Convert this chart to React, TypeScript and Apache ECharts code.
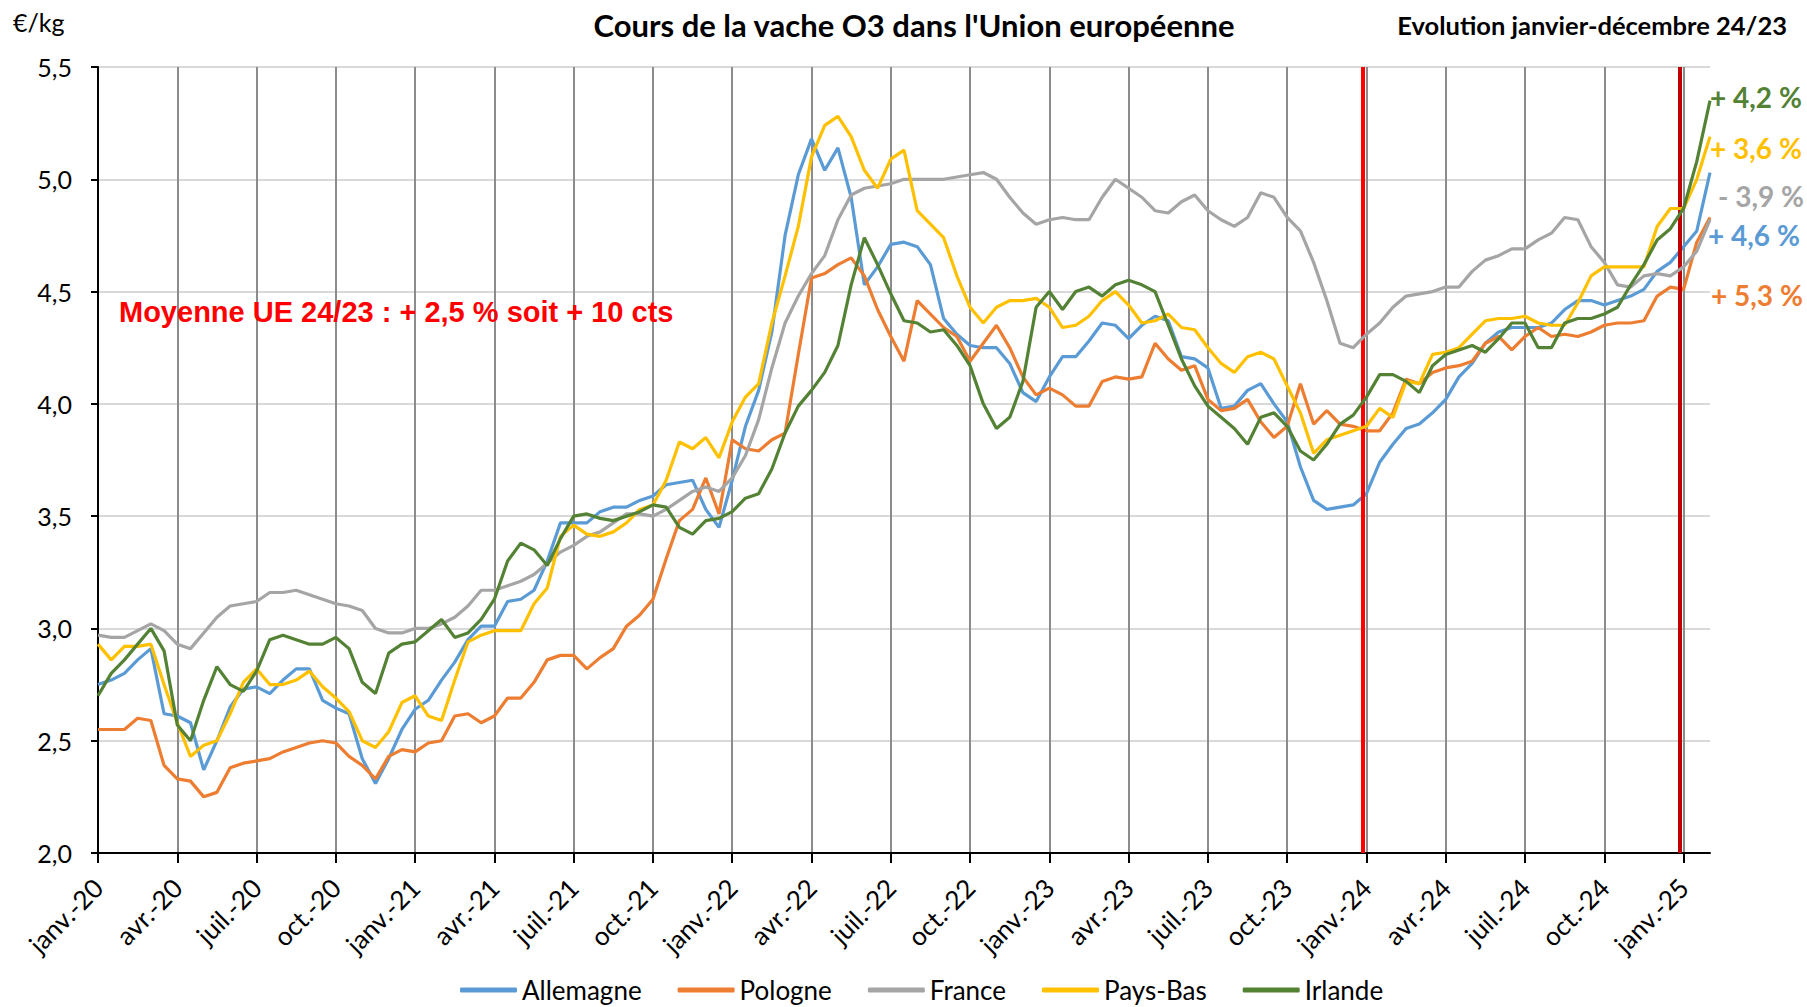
import React, { useEffect, useRef } from "react";
import * as echarts from "echarts";

// Quarterly tick labels (every 6 half-month steps)
const tickLabels = [
  "janv.-20", "avr.-20", "juil.-20", "oct.-20",
  "janv.-21", "avr.-21", "juil.-21", "oct.-21",
  "janv.-22", "avr.-22", "juil.-22", "oct.-22",
  "janv.-23", "avr.-23", "juil.-23", "oct.-23",
  "janv.-24", "avr.-24", "juil.-24", "oct.-24",
  "janv.-25",
];

// Half-month sampling from Jan 2020 to early Feb 2025 (123 points)
const monthNames = ["01", "02", "03", "04", "05", "06", "07", "08", "09", "10", "11", "12"];
const categories: string[] = [];
for (let i = 0; i < 123; i++) {
  const m = Math.floor(i / 2);
  const y = 2020 + Math.floor(m / 12);
  categories.push(`${y}-${monthNames[m % 12]}-${i % 2 === 0 ? "01" : "15"}`);
}

const allemagne = [
  2.75, 2.77, 2.80, 2.86, 2.91, 2.62, 2.61, 2.58, 2.37, 2.50, 2.65, 2.73, 2.74, 2.71, 2.77, 2.82, 2.82, 2.68, 2.645, 2.62, 2.42, 2.31, 2.42, 2.55,
  2.64, 2.68, 2.77, 2.85, 2.95, 3.01, 3.01, 3.12, 3.13, 3.17, 3.30, 3.47, 3.47, 3.47, 3.52, 3.54, 3.54, 3.57, 3.59, 3.64, 3.65, 3.66, 3.53, 3.45,
  3.66, 3.90, 4.06, 4.32, 4.75, 5.02, 5.18, 5.04, 5.14, 4.92, 4.53, 4.61, 4.71, 4.72, 4.70, 4.62, 4.38, 4.31, 4.26, 4.25, 4.25, 4.18, 4.05, 4.01,
  4.12, 4.21, 4.21, 4.28, 4.36, 4.35, 4.29, 4.35, 4.39, 4.37, 4.21, 4.20, 4.16, 3.98, 3.99, 4.06, 4.09, 4.00, 3.92, 3.72, 3.57, 3.53, 3.54, 3.55,
  3.60, 3.74, 3.82, 3.89, 3.91, 3.96, 4.02, 4.12, 4.18, 4.27, 4.32, 4.34, 4.34, 4.34, 4.36, 4.42, 4.46, 4.46, 4.44, 4.46, 4.48, 4.51, 4.59, 4.63,
  4.70, 4.77, 5.03,
];

const pologne = [
  2.55, 2.55, 2.55, 2.60, 2.59, 2.39, 2.33, 2.32, 2.25, 2.27, 2.38, 2.40, 2.41, 2.42, 2.45, 2.47, 2.49, 2.50, 2.49, 2.43, 2.39, 2.33, 2.43, 2.46,
  2.45, 2.49, 2.50, 2.61, 2.62, 2.58, 2.61, 2.69, 2.69, 2.76, 2.86, 2.88, 2.88, 2.82, 2.87, 2.91, 3.01, 3.06, 3.13, 3.31, 3.48, 3.53, 3.67, 3.51,
  3.84, 3.80, 3.79, 3.84, 3.87, 4.22, 4.56, 4.58, 4.62, 4.65, 4.57, 4.42, 4.30, 4.19, 4.46, 4.40, 4.34, 4.30, 4.19, 4.27, 4.35, 4.25, 4.12, 4.04,
  4.07, 4.04, 3.99, 3.99, 4.10, 4.12, 4.11, 4.12, 4.27, 4.20, 4.15, 4.17, 4.02, 3.97, 3.98, 4.02, 3.92, 3.85, 3.90, 4.09, 3.91, 3.97, 3.91, 3.90,
  3.88, 3.88, 3.96, 4.11, 4.09, 4.14, 4.16, 4.17, 4.19, 4.27, 4.30, 4.24, 4.30, 4.34, 4.30, 4.31, 4.30, 4.32, 4.35, 4.36, 4.36, 4.37, 4.48, 4.52,
  4.51, 4.72, 4.83,
];

const france = [
  2.97, 2.96, 2.96, 2.99, 3.02, 2.99, 2.93, 2.91, 2.98, 3.05, 3.10, 3.11, 3.12, 3.16, 3.16, 3.17, 3.15, 3.13, 3.11, 3.10, 3.08, 3.00, 2.98, 2.98,
  3.00, 3.00, 3.02, 3.05, 3.10, 3.17, 3.17, 3.19, 3.21, 3.24, 3.29, 3.34, 3.37, 3.41, 3.43, 3.47, 3.51, 3.51, 3.50, 3.53, 3.57, 3.61, 3.63, 3.61,
  3.67, 3.77, 3.93, 4.16, 4.36, 4.48, 4.58, 4.66, 4.82, 4.93, 4.96, 4.97, 4.98, 5.00, 5.00, 5.00, 5.00, 5.01, 5.02, 5.03, 5.00, 4.92, 4.85, 4.80,
  4.82, 4.83, 4.82, 4.82, 4.92, 5.00, 4.96, 4.92, 4.86, 4.85, 4.90, 4.93, 4.86, 4.82, 4.79, 4.83, 4.94, 4.92, 4.83, 4.77, 4.63, 4.46, 4.27, 4.25,
  4.31, 4.36, 4.43, 4.48, 4.49, 4.50, 4.52, 4.52, 4.59, 4.64, 4.66, 4.69, 4.69, 4.73, 4.76, 4.83, 4.82, 4.70, 4.63, 4.53, 4.52, 4.57, 4.58, 4.57,
  4.61, 4.68, 4.82,
];

const paysBas = [
  2.93, 2.86, 2.92, 2.92, 2.93, 2.75, 2.58, 2.43, 2.48, 2.50, 2.62, 2.76, 2.82, 2.75, 2.75, 2.77, 2.81, 2.74, 2.69, 2.63, 2.50, 2.47, 2.54, 2.67,
  2.70, 2.61, 2.59, 2.77, 2.94, 2.97, 2.99, 2.99, 2.99, 3.11, 3.18, 3.41, 3.46, 3.42, 3.41, 3.43, 3.47, 3.53, 3.55, 3.66, 3.83, 3.80, 3.85, 3.76,
  3.92, 4.03, 4.09, 4.36, 4.57, 4.79, 5.10, 5.24, 5.28, 5.19, 5.04, 4.96, 5.09, 5.13, 4.86, 4.80, 4.74, 4.57, 4.43, 4.36, 4.43, 4.46, 4.46, 4.47,
  4.43, 4.34, 4.35, 4.39, 4.46, 4.50, 4.44, 4.36, 4.37, 4.40, 4.34, 4.33, 4.25, 4.18, 4.14, 4.21, 4.23, 4.20, 4.08, 3.96, 3.78, 3.84, 3.86, 3.88,
  3.90, 3.98, 3.94, 4.10, 4.09, 4.22, 4.23, 4.25, 4.31, 4.37, 4.38, 4.38, 4.39, 4.36, 4.35, 4.35, 4.45, 4.57, 4.61, 4.61, 4.61, 4.61, 4.79, 4.87,
  4.87, 5.00, 5.19,
];

const irlande = [
  2.70, 2.80, 2.86, 2.93, 3.00, 2.90, 2.57, 2.50, 2.68, 2.83, 2.75, 2.72, 2.81, 2.95, 2.97, 2.95, 2.93, 2.93, 2.96, 2.91, 2.76, 2.71, 2.89, 2.93,
  2.94, 2.99, 3.04, 2.96, 2.98, 3.04, 3.13, 3.30, 3.38, 3.35, 3.28, 3.40, 3.50, 3.51, 3.49, 3.48, 3.50, 3.52, 3.55, 3.54, 3.45, 3.42, 3.48, 3.49,
  3.52, 3.58, 3.60, 3.71, 3.87, 3.99, 4.06, 4.14, 4.26, 4.53, 4.74, 4.62, 4.49, 4.37, 4.36, 4.32, 4.33, 4.26, 4.17, 4.00, 3.89, 3.94, 4.10, 4.43,
  4.50, 4.42, 4.50, 4.52, 4.48, 4.53, 4.55, 4.53, 4.50, 4.35, 4.20, 4.08, 3.99, 3.94, 3.89, 3.82, 3.94, 3.96, 3.90, 3.79, 3.75, 3.82, 3.91, 3.95,
  4.03, 4.13, 4.13, 4.10, 4.05, 4.17, 4.22, 4.24, 4.26, 4.23, 4.29, 4.36, 4.36, 4.25, 4.25, 4.36, 4.38, 4.38, 4.40, 4.43, 4.53, 4.62, 4.73, 4.78,
  4.87, 5.08, 5.35,
];

const seriesNames = ["Allemagne", "Pologne", "France", "Pays-Bas", "Irlande"];
const seriesColors = ["#5B9BD5", "#ED7D31", "#A5A5A5", "#FFC000", "#548235"];
const seriesData = [allemagne, pologne, france, paysBas, irlande];

// Evolution labels (right side), in order from top
const evoLabels = ["+ 4,2 %", "+ 3,6 %", "- 3,9 %", "+ 4,6 %", "+ 5,3 %"];
const evoColors = ["#548235", "#FFC000", "#A5A5A5", "#5B9BD5", "#ED7D31"];
const evoY = [97, 148, 196, 235, 295];
const evoX = [1710, 1710, 1718, 1708, 1711];

// Red vertical markers (months since Jan 2020)
const redLineMonths = [47.86, 59.87];
const redLineColors = ["#FF0000", "#C00000"];

export default function App() {
  const ref = useRef<HTMLDivElement>(null);
  useEffect(() => {
    document.body.style.margin = "0";
    document.body.style.overflow = "hidden";
    const chart = echarts.init(ref.current!, undefined, { renderer: "svg" });
    const font = "Lato, 'Noto Sans', sans-serif";
    chart.setOption({
      animation: false,
      backgroundColor: "#ffffff",
      textStyle: { fontFamily: font },
      grid: { left: 98, right: 97, top: 67, bottom: 154 },
      legend: {
        data: seriesNames,
        left: 455,
        top: 972,
        icon: "roundRect",
        itemWidth: 57,
        itemHeight: 5,
        itemGap: 36,
        textStyle: { fontSize: 26, color: "#000", fontFamily: font },
      },
      xAxis: [
        {
          type: "category",
          data: categories,
          boundaryGap: false,
          axisLine: { show: true, lineStyle: { color: "#000", width: 2 } },
          axisTick: { show: true, interval: 5, length: 10, lineStyle: { color: "#000", width: 2 } },
          axisLabel: {
            interval: 5,
            rotate: 45,
            margin: 30,
            fontSize: 26,
            color: "#000",
            fontFamily: font,
            formatter: (_v: string, i: number) => tickLabels[Math.round(i / 6)] ?? "",
          },
          splitLine: { show: true, interval: 5, lineStyle: { color: "#8C8C8C", width: 2 } },
        },
        { type: "value", min: 0, max: 61, show: false },
      ],
      yAxis: {
        type: "value",
        min: 2,
        max: 5.5,
        interval: 0.5,
        axisLine: { show: true, lineStyle: { color: "#000", width: 2 } },
        axisTick: { show: true, length: 7, lineStyle: { color: "#000", width: 2 } },
        axisLabel: {
          fontSize: 25,
          color: "#000",
          margin: 26,
          fontFamily: font,
          formatter: (v: number) => v.toFixed(1).replace(".", ","),
        },
        splitLine: { show: true, lineStyle: { color: "#D9D9D9", width: 2 } },
      },
      series: [
        ...seriesNames.map((name, k) => ({
          name,
          type: "line",
          data: seriesData[k],
          showSymbol: false,
          symbol: "none",
          color: seriesColors[k],
          lineStyle: { color: seriesColors[k], width: 3.2 },
          z: 3 + k,
        })),
        {
          name: "marqueurs",
          type: "line",
          xAxisIndex: 1,
          data: [],
          z: 10,
          markLine: {
            silent: true,
            symbol: ["none", "none"],
            label: { show: false },
            data: redLineMonths.map((m, i) => ({
              xAxis: m,
              lineStyle: { color: redLineColors[i], width: 4, type: "solid" },
            })),
          },
        },
      ],
      graphic: [
        {
          type: "text",
          left: 13,
          top: 9,
          style: { text: "€/kg", font: `25px ${font}`, fill: "#000" },
        },
        {
          type: "text",
          x: 914,
          y: 25,
          style: {
            text: "Cours de la vache O3 dans l'Union européenne",
            font: `bold 31px ${font}`,
            fill: "#000",
            textAlign: "center",
            textVerticalAlign: "middle",
          },
        },
        {
          type: "text",
          x: 1787,
          y: 25,
          style: {
            text: "Evolution janvier-décembre 24/23",
            font: `bold 25.5px ${font}`,
            fill: "#000",
            textAlign: "right",
            textVerticalAlign: "middle",
          },
        },
        {
          type: "text",
          x: 119,
          y: 312,
          z: 1,
          style: {
            text: "Moyenne UE 24/23 : + 2,5 % soit + 10 cts",
            font: `bold 29px 'Liberation Sans', Arial, sans-serif`,
            fill: "#FF0000",
            textAlign: "left",
            textVerticalAlign: "middle",
          },
        },
        ...evoLabels.map((t, i) => ({
          type: "text",
          x: evoX[i],
          y: evoY[i],
          style: {
            text: t,
            font: `bold 28px ${font}`,
            fill: evoColors[i],
            textAlign: "left",
            textVerticalAlign: "middle",
          },
        })),
      ],
    });
    return () => chart.dispose();
  }, []);
  return <div ref={ref} style={{ width: 1807, height: 1007 }} />;
}
